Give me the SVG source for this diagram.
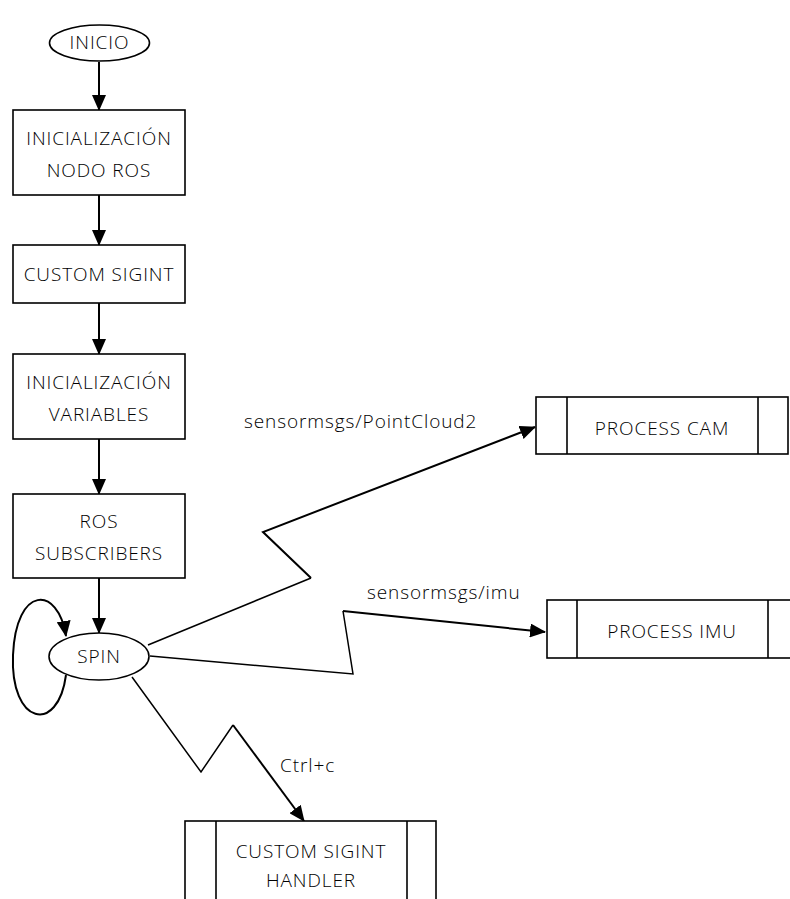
<svg xmlns="http://www.w3.org/2000/svg" width="790" height="899" viewBox="0 0 790 899">
<style>
.s{fill:#fff;stroke:#000;stroke-width:1.6}
.t{font-family:"Open Sans","Liberation Sans",sans-serif;font-weight:300;font-size:19px;letter-spacing:0.9px;fill:#000;text-anchor:middle}
.l{font-family:"Open Sans","Liberation Sans",sans-serif;font-weight:300;font-size:19px;letter-spacing:0.9px;fill:#000}
.c{fill:none;stroke:#000;stroke-width:2}
.c1{fill:none;stroke:#000;stroke-width:1.5}
</style>
<defs>
<marker id="ah" markerUnits="userSpaceOnUse" markerWidth="16" markerHeight="14" viewBox="0 0 16 14" refX="15" refY="7" orient="auto">
<path d="M0,0 L16,7 L0,14 Z" fill="#000"/>
</marker>
</defs>
<g id="connectors">
<line class="c" x1="99" y1="62" x2="99" y2="110" marker-end="url(#ah)"/>
<line class="c" x1="99" y1="195" x2="99" y2="245" marker-end="url(#ah)"/>
<line class="c" x1="99" y1="303" x2="99" y2="354" marker-end="url(#ah)"/>
<line class="c" x1="99" y1="439" x2="99" y2="494" marker-end="url(#ah)"/>
<line class="c" x1="99" y1="578" x2="99" y2="633" marker-end="url(#ah)"/>
<path class="c" d="M66,675 C58,735 10,725 13,655 C16,585 58,585 66,636" marker-end="url(#ah)"/>
<path class="c1" d="M148,645 L311,578" />
<path class="c" d="M311,578 L263,532 L535,427" marker-end="url(#ah)"/>
<path class="c1" d="M150,656 L353,674 L343,611"/>
<path class="c" d="M343,611 L545,632" marker-end="url(#ah)"/>
<path class="c1" d="M132,677 L201,772 L233,725"/>
<path class="c" d="M233,725 L304,821" marker-end="url(#ah)"/>
<text class="l" x="244" y="428">sensormsgs/PointCloud2</text>
<text class="l" x="367" y="599">sensormsgs/imu</text>
<text class="l" x="280" y="772">Ctrl+c</text>
</g>
<g id="inicio">
<ellipse class="s" cx="99.5" cy="43" rx="50" ry="18"/>
<text class="t" x="99.5" y="49">INICIO</text>
</g>
<g id="init-nodo">
<rect class="s" x="13" y="110" width="172" height="85"/>
<text class="t" x="99" y="145">INICIALIZACIÓN</text>
<text class="t" x="99" y="177">NODO ROS</text>
</g>
<g id="custom-sigint">
<rect class="s" x="13" y="245" width="172" height="58"/>
<text class="t" x="99" y="281">CUSTOM SIGINT</text>
</g>
<g id="init-vars">
<rect class="s" x="13" y="354" width="172" height="85"/>
<text class="t" x="99" y="389">INICIALIZACIÓN</text>
<text class="t" x="99" y="421">VARIABLES</text>
</g>
<g id="ros-subs">
<rect class="s" x="13" y="494" width="172" height="84"/>
<text class="t" x="99" y="528">ROS</text>
<text class="t" x="99" y="560">SUBSCRIBERS</text>
</g>
<g id="spin">
<ellipse class="s" cx="99" cy="656.5" rx="50" ry="23.5"/>
<text class="t" x="99" y="663">SPIN</text>
</g>
<g id="process-cam">
<rect class="s" x="536" y="397" width="252" height="57"/>
<line class="s" x1="567" y1="397" x2="567" y2="454"/>
<line class="s" x1="758" y1="397" x2="758" y2="454"/>
<text class="t" x="662" y="435">PROCESS CAM</text>
</g>
<g id="process-imu">
<rect class="s" x="547" y="600" width="250" height="58"/>
<line class="s" x1="577" y1="600" x2="577" y2="658"/>
<line class="s" x1="768" y1="600" x2="768" y2="658"/>
<text class="t" x="672" y="638">PROCESS IMU</text>
</g>
<g id="sigint-handler">
<rect class="s" x="185" y="821" width="251" height="90"/>
<line class="s" x1="216" y1="821" x2="216" y2="911"/>
<line class="s" x1="407" y1="821" x2="407" y2="911"/>
<text class="t" x="311" y="858">CUSTOM SIGINT</text>
<text class="t" x="311" y="887">HANDLER</text>
</g>
</svg>
